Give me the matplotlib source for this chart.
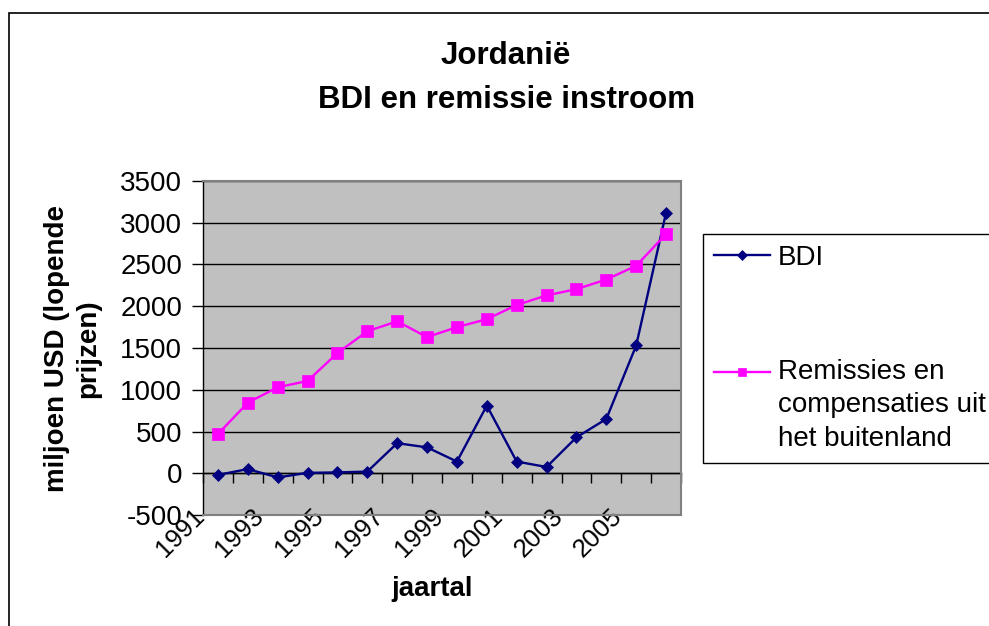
"""Jordanië: BDI en remissie instroom, 1991-2006 (Excel-style line chart)."""

import matplotlib

matplotlib.use("Agg")
import matplotlib.pyplot as plt
import matplotlib.transforms as mtransforms
import numpy as np
from matplotlib.patches import Rectangle

plt.rcParams["font.family"] = ["Liberation Sans", "DejaVu Sans"]
plt.rcParams["axes.unicode_minus"] = False

years = list(range(1991, 2007))
bdi = [-20, 50, -50, 5, 10, 20, 360, 310, 140, 810, 140, 75, 430, 650, 1530, 3120]
remissies = [470, 845, 1030, 1105, 1440, 1700, 1820, 1630,
             1750, 1845, 2015, 2130, 2205, 2320, 2485, 2865]
y_ticks = list(range(-500, 3501, 500))

title_lines = ["Jordanië", "BDI en remissie instroom"]
y_label = "miljoen USD (lopende\nprijzen)"
x_label = "jaartal"
label_bdi = "BDI"
label_rem = "Remissies en\ncompensaties uit\nhet buitenland"

W, H = 989, 626
fig = plt.figure(figsize=(W / 100, H / 100), dpi=100)

# outer chart border (runs off the right and bottom edge like the source)
fig.patches.append(Rectangle((8.5 / W, -0.1), 1.2, 1 - 12.5 / H + 0.1,
                             transform=fig.transFigure, fill=False,
                             edgecolor="black", linewidth=1.2))

ax = fig.add_axes([203 / W, 1 - 515 / H, 478 / W, 334 / H])
ax.set_facecolor("#C0C0C0")

x = np.arange(len(years))
ax.plot(x, bdi, color="#000080", linewidth=1.7, marker="D", markersize=5.8,
        markeredgewidth=0.5, label=label_bdi, zorder=3)
ax.plot(x, remissies, color="#FF00FF", linewidth=1.7, marker="s", markersize=8,
        markeredgewidth=0.5, label="\n\n" + label_rem, zorder=3)

ax.set_xlim(-0.5, len(years) - 0.5)
ax.set_ylim(y_ticks[0], y_ticks[-1])
ax.set_yticks(y_ticks)
ax.yaxis.grid(True, color="black", linewidth=1.0)
ax.set_axisbelow(True)

for side in ("top", "right", "bottom"):
    ax.spines[side].set_color("#808080")
    ax.spines[side].set_linewidth(1.5)
ax.spines["left"].set_color("black")
ax.spines["left"].set_linewidth(1.0)

ax.tick_params(axis="y", direction="out", length=8, width=1, pad=7,
               labelsize=20, colors="black")

# category labels (every other year), rotated like Excel
ax.set_xticks(x[::2])
ax.set_xticklabels([str(y) for y in years[::2]], rotation=45, ha="right",
                   va="top", fontsize=18.5)
ax.tick_params(axis="x", length=0, pad=0)
shift = mtransforms.ScaledTranslation(-0.09, 0.11, fig.dpi_scale_trans)
for lbl in ax.get_xticklabels():
    lbl.set_transform(lbl.get_transform() + shift)

# horizontal axis crosses at 0, tick marks at category boundaries
zero_pos = (0 - y_ticks[0]) / (y_ticks[-1] - y_ticks[0])
secax = ax.secondary_xaxis(zero_pos)
secax.set_xticks(np.arange(len(years) + 1) - 0.5)
secax.tick_params(axis="x", direction="out", length=7, width=1,
                  labelbottom=False, labeltop=False, bottom=True, top=False)
secax.spines["bottom"].set_color("black")
secax.spines["bottom"].set_linewidth(1.0)

# titles and axis labels
fig.text(506 / W, 1 - 64 / H, title_lines[0], ha="center", va="baseline",
         fontsize=22.5, fontweight="bold")
fig.text(507 / W, 1 - 108 / H, title_lines[1], ha="center", va="baseline",
         fontsize=22.5, fontweight="bold")
fig.text(73 / W, 1 - 349 / H, y_label, rotation=90, ha="center", va="center",
         multialignment="center", fontsize=20, fontweight="bold", linespacing=1.25)
fig.text(432 / W, 1 - 596 / H, x_label, ha="center", va="baseline",
         fontsize=20, fontweight="bold")

leg = ax.legend(loc="upper left", bbox_to_anchor=(703 / W, 1 - 234 / H),
                bbox_transform=fig.transFigure, borderaxespad=0,
                fontsize=20, frameon=True, fancybox=False, framealpha=1,
                edgecolor="black", borderpad=0.4, handlelength=2.0,
                handletextpad=0.3, labelspacing=0.75, markerscale=0.8)
leg.get_frame().set_linewidth(1.0)
for t in leg.get_texts():
    t.set_linespacing(1.37)

fig.savefig("out.png", dpi=100, facecolor="white")
